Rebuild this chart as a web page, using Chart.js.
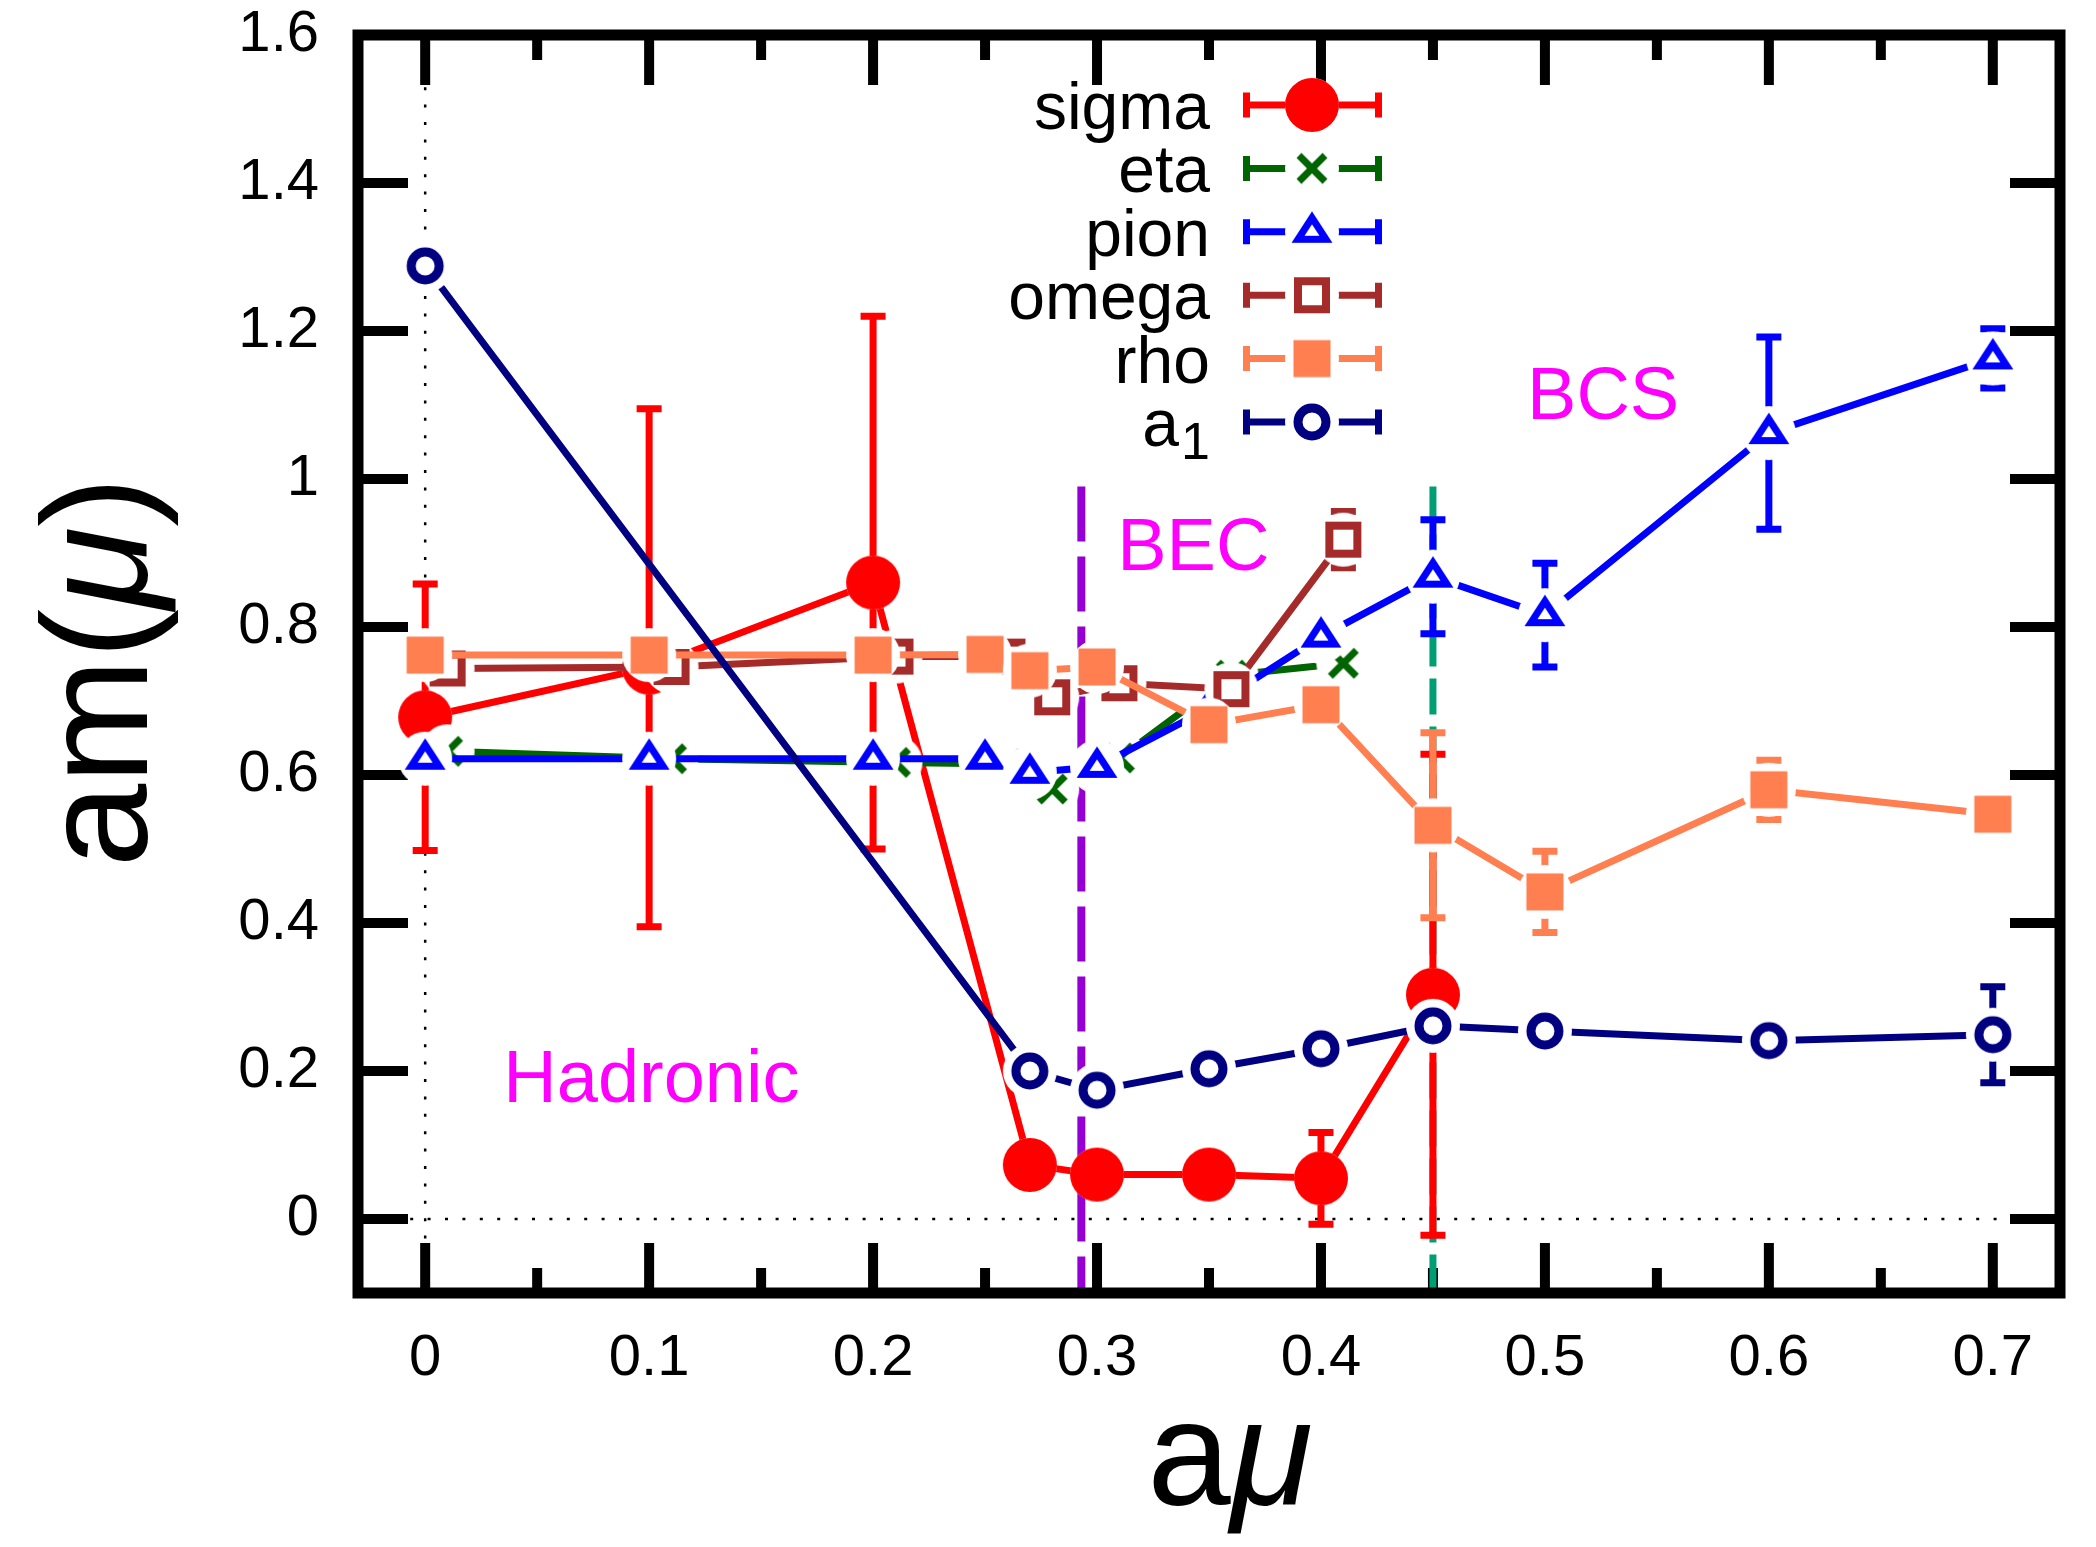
<!DOCTYPE html>
<html>
<head>
<meta charset="utf-8">
<title>am(μ) vs aμ</title>
<script src="https://cdn.jsdelivr.net/npm/chart.js@4.4.1/dist/chart.umd.min.js"></script>
<style>
  html, body { margin: 0; padding: 0; background: #fff; }
  canvas { display: block; }
</style>
</head>
<body>
<canvas id="masses" width="2096" height="1547"></canvas>
<script>
const FONT = '"Liberation Sans", Arial, Helvetica, sans-serif';

// masses am(mu) against a*mu, with statistical errors, per channel
const sigmaMu  = [0, 0.1, 0.2, 0.27, 0.3, 0.35, 0.4, 0.45];
const sigmaM   = [0.678, 0.745, 0.86, 0.073, 0.06, 0.06, 0.055, 0.303];
const sigmaErr = [0.18, 0.35, 0.36, 0.01, 0.01, 0.01, 0.062, 0.325];

const etaMu  = [0.01, 0.11, 0.21, 0.26, 0.28, 0.31, 0.36, 0.41];
const etaM   = [0.632, 0.622, 0.617, 0.615, 0.581, 0.623, 0.735, 0.751];
const etaErr = [0.005, 0.005, 0.005, 0.005, 0.01, 0.01, 0.01, 0.01];

const pionMu  = [0, 0.1, 0.2, 0.25, 0.27, 0.3, 0.35, 0.4, 0.45, 0.5, 0.6, 0.7];
const pionM   = [0.622, 0.622, 0.622, 0.622, 0.603, 0.611, 0.69, 0.787, 0.868, 0.816, 1.062, 1.163];
const pionErr = [0.005, 0.005, 0.005, 0.005, 0.005, 0.005, 0.01, 0.01, 0.077, 0.07, 0.13, 0.04];

const omegaMu  = [0.01, 0.11, 0.21, 0.26, 0.28, 0.31, 0.36, 0.41];
const omegaM   = [0.744, 0.746, 0.76, 0.76, 0.705, 0.724, 0.716, 0.918];
const omegaErr = [0.005, 0.005, 0.005, 0.005, 0.01, 0.01, 0.01, 0.038];

const rhoMu  = [0, 0.1, 0.2, 0.25, 0.27, 0.3, 0.35, 0.4, 0.45, 0.5, 0.6, 0.7];
const rhoM   = [0.762, 0.762, 0.762, 0.763, 0.741, 0.746, 0.668, 0.695, 0.532, 0.442, 0.58, 0.547];
const rhoErr = [0.005, 0.005, 0.005, 0.005, 0.005, 0.005, 0.01, 0.01, 0.125, 0.055, 0.04, 0.01];

const a1Mu  = [0, 0.27, 0.3, 0.35, 0.4, 0.45, 0.5, 0.6, 0.7];
const a1M   = [1.288, 0.2, 0.174, 0.203, 0.23, 0.261, 0.254, 0.241, 0.249];
const a1Err = [0.005, 0.005, 0.005, 0.005, 0.005, 0.005, 0.005, 0.005, 0.065];

const xTicks = [0, 0.1, 0.2, 0.3, 0.4, 0.5, 0.6, 0.7];
const xMinorTicks = [0.05, 0.15, 0.25, 0.35, 0.45, 0.55, 0.65];
const yTicks = [0, 0.2, 0.4, 0.6, 0.8, 1, 1.2, 1.4, 1.6];

// BEC and BCS onsets
const boundaryMu = [0.293, 0.45];
const boundaryTop = 0.99;

const regionNames = ['Hadronic', 'BEC', 'BCS'];
const regionMu = [0.101, 0.343, 0.526];
const regionM = [0.186, 0.904, 1.109];

// gnuplot-style point: white box behind the symbol cuts the lines under it
function marker(kind, color) {
    const c = document.createElement('canvas');
    c.width = c.height = 60;
    const g = c.getContext('2d');
    g.translate(30, 30);
    g.fillStyle = '#fff';
    g.beginPath();
    g.arc(0, 0, 27, 0, Math.PI * 2);
    g.fill();
    g.fillStyle = color;
    g.strokeStyle = color;
    g.lineJoin = 'miter';
    g.beginPath();
    if (kind === 'disc') {
        g.arc(0, 0, 27, 0, Math.PI * 2);
        g.fill();
    } else if (kind === 'cross') {
        g.lineWidth = 7;
        g.moveTo(-13, -13); g.lineTo(13, 13);
        g.moveTo(-13, 13);  g.lineTo(13, -13);
        g.stroke();
    } else if (kind === 'triangle') {
        g.lineWidth = 7;
        g.moveTo(0, -14); g.lineTo(14, 7.5); g.lineTo(-14, 7.5);
        g.closePath();
        g.stroke();
    } else if (kind === 'square') {
        g.lineWidth = 8;
        g.strokeRect(-14, -14, 28, 28);
    } else if (kind === 'box') {
        g.fillRect(-18.5, -18.5, 37, 37);
    } else if (kind === 'ring') {
        g.lineWidth = 9;
        g.arc(0, 0, 14, 0, Math.PI * 2);
        g.stroke();
    }
    return c;
}

function series(label, mu, m, err, color, kind, order) {
    return {
        label,
        data: mu.map((x, i) => ({ x, y: m[i] })),
        errors: err,
        borderColor: color,
        backgroundColor: color,
        borderWidth: 7,
        pointStyle: marker(kind, color),
        pointRadius: 27,
        pointHoverRadius: 27,
        tension: 0,
        fill: false,
        order
    };
}

const errorBars = {
    id: 'errorBars',
    beforeDatasetDraw(chart, args) {
        const ds = chart.data.datasets[args.index];
        const { ctx, scales: { y } } = chart;
        ctx.save();
        ctx.strokeStyle = ds.borderColor;
        ctx.lineWidth = 7;
        args.meta.data.forEach((pt, i) => {
            const v = ds.data[i].y, e = ds.errors[i];
            const top = y.getPixelForValue(v + e);
            const bot = y.getPixelForValue(v - e);
            ctx.beginPath();
            ctx.moveTo(pt.x, top); ctx.lineTo(pt.x, bot);
            ctx.moveTo(pt.x - 12.5, top); ctx.lineTo(pt.x + 12.5, top);
            ctx.moveTo(pt.x - 12.5, bot); ctx.lineTo(pt.x + 12.5, bot);
            ctx.stroke();
        });
        ctx.restore();
    }
};

// inward ticks on all four sides, zero axes and the phase boundaries
const underlay = {
    id: 'underlay',
    beforeDatasetsDraw(chart) {
        const { ctx, chartArea: a, scales: { x, y } } = chart;
        ctx.save();
        ctx.strokeStyle = '#000';
        ctx.lineWidth = 10;
        ctx.beginPath();
        const xt = (v, len) => {
            const px = x.getPixelForValue(v);
            ctx.moveTo(px, a.bottom); ctx.lineTo(px, a.bottom - len);
            ctx.moveTo(px, a.top);    ctx.lineTo(px, a.top + len);
        };
        xTicks.forEach(v => xt(v, 50));
        xMinorTicks.forEach(v => xt(v, 25));
        yTicks.forEach(v => {
            const py = y.getPixelForValue(v);
            ctx.moveTo(a.left, py);  ctx.lineTo(a.left + 50, py);
            ctx.moveTo(a.right, py); ctx.lineTo(a.right - 50, py);
        });
        ctx.stroke();

        ctx.lineWidth = 2.5;
        ctx.setLineDash([3, 14.4]);
        ctx.beginPath();
        const x0 = x.getPixelForValue(0), y0 = y.getPixelForValue(0);
        ctx.moveTo(x0, a.top); ctx.lineTo(x0, a.bottom);
        ctx.moveTo(a.left, y0); ctx.lineTo(a.right, y0);
        ctx.stroke();

        const styles = [
            { color: '#9400d3', width: 8, dash: [55, 15] },
            { color: '#009e73', width: 7, dash: [36, 12] }
        ];
        boundaryMu.forEach((mu, i) => {
            const px = x.getPixelForValue(mu);
            ctx.strokeStyle = styles[i].color;
            ctx.lineWidth = styles[i].width;
            ctx.setLineDash(styles[i].dash);
            ctx.beginPath();
            ctx.moveTo(px, y.getPixelForValue(boundaryTop));
            ctx.lineTo(px, a.bottom);
            ctx.stroke();
        });
        ctx.restore();
    }
};

function drawRuns(ctx, runs, cx, baseline) {
    let total = 0;
    runs.forEach(r => {
        ctx.font = r.font;
        r.w = ctx.measureText(r.text).width;
        total += r.w;
    });
    let px = cx - total / 2;
    ctx.textAlign = 'left';
    ctx.textBaseline = 'alphabetic';
    runs.forEach(r => {
        ctx.font = r.font;
        ctx.fillText(r.text, px, baseline + (r.dy || 0));
        px += r.w;
    });
}

const overlay = {
    id: 'overlay',
    afterDatasetsDraw(chart) {
        const { ctx, chartArea: a, scales: { x, y } } = chart;
        ctx.save();
        ctx.strokeStyle = '#000';
        ctx.lineWidth = 11;
        ctx.strokeRect(a.left, a.top, a.right - a.left, a.bottom - a.top);

        // region names
        ctx.fillStyle = '#ff00ff';
        ctx.font = `74px ${FONT}`;
        ctx.textAlign = 'center';
        ctx.textBaseline = 'middle';
        regionNames.forEach((name, i) => {
            ctx.fillText(name, x.getPixelForValue(regionMu[i]), y.getPixelForValue(regionM[i]));
        });

        // key: name, then error-bar sample with the point symbol
        const ordered = chart.data.datasets.slice();
        ordered.forEach((ds, i) => {
            const rowY = a.top + 70 + i * 63.4;
            const textRight = a.left + 852;
            const [base, sub] = ds.label.split('_');
            ctx.fillStyle = '#000';
            ctx.textBaseline = 'alphabetic';
            ctx.textAlign = 'right';
            if (sub) {
                ctx.font = `52px ${FONT}`;
                const subW = ctx.measureText(sub).width;
                ctx.fillText(sub, textRight, rowY + 37);
                ctx.font = `66px ${FONT}`;
                ctx.fillText(base, textRight - subW - 2, rowY + 24);
            } else {
                ctx.font = `66px ${FONT}`;
                ctx.fillText(base, textRight, rowY + 24);
            }
            const l = a.left + 885, r = a.left + 1024, mid = a.left + 954;
            ctx.strokeStyle = ds.borderColor;
            ctx.lineWidth = 7;
            ctx.beginPath();
            ctx.moveTo(l, rowY); ctx.lineTo(r, rowY);
            ctx.moveTo(l + 3.5, rowY - 12.5); ctx.lineTo(l + 3.5, rowY + 12.5);
            ctx.moveTo(r - 3.5, rowY - 12.5); ctx.lineTo(r - 3.5, rowY + 12.5);
            ctx.stroke();
            const img = ds.pointStyle;
            ctx.drawImage(img, mid - img.width / 2, rowY - img.height / 2);
        });

        // axis titles
        ctx.fillStyle = '#000';
        drawRuns(ctx, [
            { text: 'a', font: `150px ${FONT}` },
            { text: 'μ', font: `italic 150px ${FONT}` }
        ], (a.left + a.right) / 2 + 21, 1505);

        ctx.translate(147, (a.top + a.bottom) / 2 + 8);
        ctx.rotate(-Math.PI / 2);
        drawRuns(ctx, [
            { text: 'am(', font: `150px ${FONT}` },
            { text: 'μ', font: `italic 150px ${FONT}` },
            { text: ')', font: `150px ${FONT}` }
        ], 0, 0);
        ctx.restore();
    }
};

const tickFont = { family: FONT, size: 58 };

new Chart(document.getElementById('masses'), {
    type: 'line',
    data: {
        datasets: [
            series('sigma', sigmaMu, sigmaM, sigmaErr, '#ff0000', 'disc', 5),
            series('eta',   etaMu,   etaM,   etaErr,   '#006400', 'cross', 4),
            series('pion',  pionMu,  pionM,  pionErr,  '#0000ff', 'triangle', 3),
            series('omega', omegaMu, omegaM, omegaErr, '#a52a2a', 'square', 2),
            series('rho',   rhoMu,   rhoM,   rhoErr,   '#ff7f50', 'box', 1),
            series('a_1',   a1Mu,    a1M,    a1Err,    '#000080', 'ring', 0)
        ]
    },
    options: {
        responsive: false,
        animation: false,
        layout: { padding: { left: 0, right: 36, top: 35, bottom: 0 } },
        plugins: {
            legend: { display: false },
            tooltip: { enabled: false }
        },
        scales: {
            x: {
                type: 'linear',
                bounds: 'data',
                min: -0.03,
                max: 0.73,
                grid: { display: false, drawTicks: false, tickLength: 0 },
                border: { display: false },
                ticks: {
                    font: tickFont, color: '#000', padding: 31,
                    maxRotation: 0, autoSkip: false,
                    callback: v => String(v)
                },
                afterBuildTicks: s => { s.ticks = xTicks.map(value => ({ value })); },
                afterFit: s => {
                    s.height = 254;
                    s.paddingLeft = s.paddingRight = s.paddingTop = s.paddingBottom = 0;
                }
            },
            y: {
                type: 'linear',
                bounds: 'data',
                min: -0.1,
                max: 1.6,
                grid: { display: false, drawTicks: false, tickLength: 0 },
                border: { display: false },
                ticks: {
                    font: tickFont, color: '#000', padding: 39,
                    autoSkip: false,
                    callback: v => String(v)
                },
                afterBuildTicks: s => { s.ticks = yTicks.map(value => ({ value })); },
                afterFit: s => {
                    s.width = 358;
                    s.paddingLeft = s.paddingRight = s.paddingTop = s.paddingBottom = 0;
                }
            }
        }
    },
    plugins: [underlay, errorBars, overlay]
});
</script>
</body>
</html>
